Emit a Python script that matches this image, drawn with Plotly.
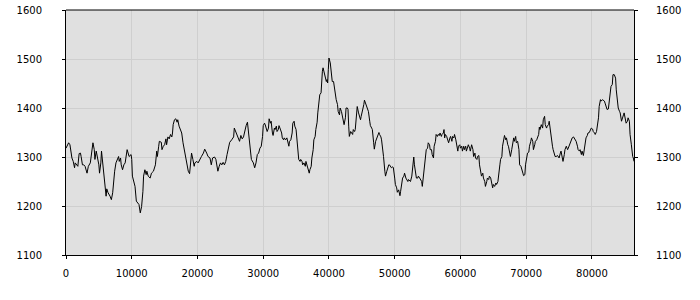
import plotly.graph_objects as go

# time (s) and value readings
t = [0, 400, 600, 900, 1100, 1300, 1400, 1600, 1800, 2000, 2200, 2300, 2500, 2700, 2900, 3200, 3400, 3700, 3900, 4100,
     4300, 4400, 4600, 4800, 5000, 5100, 5300, 5400, 5700, 5800, 6000, 6100, 6200, 6400, 6700, 6900, 7100, 7300, 7400, 7600,
     7800, 8000, 8100, 8300, 8400, 8600, 8800, 9000, 9300, 9500, 9600, 9900, 10000, 10100, 10300, 10500, 10700, 10900, 11100, 11300,
     11500, 11700, 11800, 12000, 12200, 12300, 12500, 12800, 13000, 13300, 13600, 13800, 13900, 14100, 14200,
     14500, 14600, 14800, 15000, 15200, 15300, 15500, 15700, 15900, 16100, 16200, 16300, 16500, 16700, 16900, 17000, 17200, 17400, 17600,
     17800, 18000, 18200, 18300, 18500, 18600, 18800, 19000, 19100, 19300, 19500, 19600, 19900, 20100, 20400, 20600, 20900, 21100, 21400,
     21600, 21900, 22100, 22300, 22600, 22800, 22900, 23100, 23300, 23500, 23700, 23900, 24100, 24300, 24500, 24700, 24900, 25200, 25500,
     25600, 25800, 26000, 26200, 26400, 26600, 26800, 27000, 27200, 27400, 27600, 27700, 27900, 28000, 28200, 28500, 28600,
     28700, 28900, 29100, 29300, 29500, 29700, 29900, 30000, 30200, 30300, 30500, 30600, 30800, 30900, 31100, 31200, 31400, 31500, 31700,
     31800, 32000, 32100, 32300, 32400, 32600, 32800, 32900, 33100, 33200, 33400, 33600, 33700, 33900, 34000, 34200, 34400, 34500, 34700,
     34800, 35000, 35100, 35300, 35400, 35600, 35700, 35900, 36000, 36200, 36400, 36500, 36700, 36800, 37000, 37100, 37300, 37400, 37600,
     37700, 37900, 38000, 38200, 38300, 38500, 38600, 38800, 38900, 39000, 39100, 39300, 39400, 39600, 39700, 39800, 39900, 40000, 40200,
     40400, 40500, 40700, 40800, 41000, 41100, 41300, 41400, 41600, 41700, 41900, 42000, 42200, 42300, 42500, 42600, 42800, 42900, 43000, 43100,
     43300, 43600, 43700, 43900, 44000, 44200, 44300, 44500, 44600, 44800, 44900, 45100, 45300, 45400, 45600, 45700, 45900, 46000, 46200,
     46300, 46500, 46600, 46800, 46900, 47100, 47300, 47400, 47600, 47700, 47900, 48000, 48200, 48300, 48500, 48600, 48800, 48900, 49100,
     49200, 49400, 49500, 49700, 49800, 50000, 50100, 50300, 50400, 50600, 50800, 50900, 51100, 51200, 51400, 51500, 51700, 51800, 52000,
     52100, 52300, 52400, 52600, 52700, 52900, 53000, 53200, 53300, 53500, 53600, 53800, 53900, 54100, 54200, 54400, 54500, 54700, 54800,
     55000, 55100, 55300, 55400, 55600, 55700, 55900, 56000, 56200, 56300, 56500, 56600, 56800, 56900, 57100, 57200, 57400, 57500,
     57600, 57700, 57900, 58100, 58200, 58400, 58500, 58700, 58800, 59000, 59100, 59300, 59400, 59600, 59700, 59900, 60000, 60200, 60300,
     60500, 60600, 60800, 60900, 61100, 61200, 61400, 61500, 61700, 61900, 62000, 62200, 62300, 62500, 62600, 62800, 62900, 63100, 63200,
     63400, 63500, 63700, 63800, 64000, 64100, 64300, 64400, 64600, 64700, 64900, 65000, 65200, 65400, 65500, 65700, 65800, 66000, 66100,
     66300, 66400, 66600, 66700, 66900, 67000, 67200, 67300, 67500, 67600, 67800, 67900, 68100, 68200, 68400, 68500, 68700, 68900, 69000,
     69200, 69300, 69500, 69600, 69800, 69900, 70100, 70200, 70400, 70500, 70700, 70800, 71000, 71100, 71300, 71400, 71600, 71700, 71900, 72000,
     72100, 72300, 72500, 72600, 72800, 72900, 73100, 73200, 73400, 73500, 73700, 73800, 74000, 74100, 74300, 74400, 74600, 74700, 74900,
     75000, 75200, 75300, 75500, 75600, 75800, 75900, 76100, 76300, 76400, 76600, 76700, 76900, 77000, 77200, 77300, 77500, 77600, 77800,
     77900, 78100, 78200, 78400, 78500, 78700, 78800, 79000, 79100, 79300, 79400, 79600, 79800, 79900, 80100, 80200, 80400, 80500, 80700,
     80800, 81000, 81100, 81300, 81400, 81600, 81700, 81900, 82000, 82200, 82300, 82500, 82600, 82800, 82900, 83100, 83200, 83400, 83600,
     83700, 83900, 84000, 84200, 84300, 84500, 84600, 84800, 84900, 85100, 85200, 85400, 85500, 85700, 85800, 86000, 86100, 86200, 86300, 86400]

v = [1318, 1329, 1325, 1298, 1291, 1278, 1288, 1284, 1281, 1307, 1308, 1301, 1284, 1284, 1281, 1267, 1281, 1288, 1312, 1329,
     1315, 1295, 1312, 1301, 1284, 1267, 1288, 1312, 1278, 1261, 1244, 1220, 1235, 1227, 1220, 1213, 1227, 1261, 1271, 1288,
     1295, 1301, 1291, 1298, 1284, 1274, 1284, 1288, 1315, 1308, 1301, 1305, 1295, 1261, 1247, 1240, 1210, 1206, 1203, 1186,
     1199, 1230, 1261, 1274, 1264, 1271, 1261, 1257, 1267, 1271, 1284, 1312, 1301, 1322, 1332,
     1330, 1315, 1322, 1325, 1337, 1325, 1341, 1337, 1346, 1341, 1349, 1366, 1376, 1378, 1371, 1376, 1363, 1356, 1349,
     1329, 1315, 1298, 1291, 1281, 1271, 1266, 1288, 1308, 1295, 1281, 1288, 1291, 1288, 1298, 1301, 1308, 1316, 1308,
     1301, 1298, 1284, 1298, 1300, 1295, 1284, 1271, 1281, 1288, 1284, 1289, 1284, 1291, 1305, 1318, 1330, 1335, 1341,
     1359, 1352, 1349, 1339, 1332, 1344, 1337, 1341, 1356, 1364, 1371, 1356, 1339, 1315, 1295, 1288, 1281,
     1278, 1288, 1305, 1308, 1318, 1322, 1342, 1364, 1369, 1366, 1356, 1352, 1359, 1378, 1369, 1373, 1349, 1344, 1359,
     1356, 1363, 1352, 1356, 1364, 1357, 1349, 1339, 1335, 1339, 1335, 1339, 1332, 1322, 1332, 1335, 1349, 1369, 1373,
     1363, 1356, 1335, 1315, 1295, 1291, 1295, 1291, 1284, 1288, 1281, 1291, 1281, 1278, 1267, 1274, 1281, 1298, 1315,
     1335, 1342, 1356, 1371, 1390, 1410, 1427, 1431, 1461, 1475, 1482, 1468, 1461, 1454, 1458, 1451, 1478, 1502, 1492,
     1471, 1454, 1454, 1441, 1424, 1417, 1407, 1393, 1386, 1400, 1393, 1386, 1373, 1366, 1380, 1400, 1400, 1397, 1363, 1342,
     1352, 1346, 1356, 1352, 1356, 1383, 1403, 1390, 1383, 1376, 1383, 1393, 1407, 1416, 1407, 1405, 1397, 1393, 1373,
     1364, 1359, 1356, 1329, 1316, 1332, 1339, 1342, 1350, 1346, 1341, 1335, 1315, 1301, 1271, 1261, 1271, 1278, 1284,
     1284, 1281, 1278, 1280, 1278, 1257, 1244, 1237, 1228, 1233, 1221, 1230, 1247, 1257, 1261, 1267, 1257, 1254, 1250,
     1254, 1252, 1250, 1261, 1278, 1300, 1284, 1264, 1257, 1257, 1261, 1257, 1254, 1250, 1240, 1267, 1278, 1301, 1315,
     1318, 1329, 1325, 1315, 1315, 1305, 1298, 1322, 1332, 1346, 1342, 1346, 1344, 1349, 1342, 1346, 1349, 1356,
     1339, 1346, 1342, 1335, 1329, 1339, 1342, 1332, 1342, 1339, 1346, 1335, 1329, 1312, 1322, 1325, 1318, 1322, 1312,
     1322, 1315, 1322, 1312, 1322, 1325, 1318, 1312, 1325, 1315, 1301, 1308, 1298, 1295, 1301, 1303, 1284, 1264, 1261,
     1267, 1257, 1250, 1240, 1250, 1257, 1254, 1261, 1257, 1247, 1237, 1244, 1240, 1247, 1244, 1250, 1267, 1284, 1295,
     1301, 1322, 1339, 1344, 1335, 1339, 1325, 1322, 1308, 1301, 1315, 1325, 1339, 1332, 1342, 1329, 1332, 1315, 1284,
     1281, 1274, 1267, 1262, 1264, 1284, 1301, 1308, 1310, 1322, 1332, 1339, 1332, 1315, 1325, 1332, 1335, 1339, 1346, 1361,
     1356, 1366, 1359, 1376, 1383, 1366, 1359, 1363, 1366, 1373, 1349, 1339, 1322, 1315, 1301, 1301, 1301, 1303, 1301,
     1298, 1308, 1312, 1298, 1291, 1305, 1315, 1322, 1315, 1318, 1325, 1329, 1335, 1339, 1341, 1339, 1335, 1332, 1322,
     1315, 1312, 1315, 1305, 1312, 1303, 1315, 1329, 1339, 1344, 1349, 1350, 1356, 1359, 1357, 1352, 1349, 1346, 1352,
     1359, 1380, 1403, 1417, 1414, 1417, 1416, 1414, 1410, 1400, 1397, 1398, 1414, 1431, 1444, 1448, 1468, 1468, 1461,
     1437, 1414, 1400, 1393, 1390, 1373, 1380, 1386, 1390, 1376, 1369, 1373, 1380, 1373, 1346, 1325, 1308, 1301, 1298, 1291]

x_ticks = [0, 10000, 20000, 30000, 40000, 50000, 60000, 70000, 80000]
y_ticks = [1100, 1200, 1300, 1400, 1500, 1600]

font = dict(family="DejaVu Sans", size=10, color="#000000")

fig = go.Figure()
fig.add_trace(go.Scatter(x=t, y=v, mode="lines", line=dict(color="#000000", width=1),
                         hoverinfo="skip", showlegend=False))
fig.add_trace(go.Scatter(x=t, y=v, mode="lines", line=dict(color="rgba(0,0,0,0)", width=0),
                         yaxis="y2", hoverinfo="skip", showlegend=False))

axis_common = dict(showline=True, linecolor="#000000", linewidth=1, mirror=False,
                   ticks="outside", ticklen=3, tickcolor="#000000",
                   showgrid=True, gridcolor="#cfcfcf", gridwidth=1, zeroline=False,
                   tickfont=font, automargin=False)

fig.update_layout(
    width=700, height=300,
    margin=dict(l=66, r=66, t=10, b=45, autoexpand=False),
    paper_bgcolor="#ffffff", plot_bgcolor="#e0e0e0",
    showlegend=False,
    xaxis=dict(range=[0, 86400], tickvals=x_ticks, ticktext=[str(x) for x in x_ticks],
               ticklabelstandoff=6, **axis_common),
    yaxis=dict(range=[1100, 1600], tickvals=y_ticks, ticklabelstandoff=18, side="left", **axis_common),
    yaxis2=dict(range=[1100, 1600], tickvals=y_ticks, overlaying="y", side="right",
                ticklabelstandoff=16, **{**axis_common, "showgrid": False}),
    shapes=[dict(type="line", xref="paper", yref="paper", x0=0, x1=1, y0=1, y1=1,
                 line=dict(color="#000000", width=1))],
)

fig.write_html("out.html")
